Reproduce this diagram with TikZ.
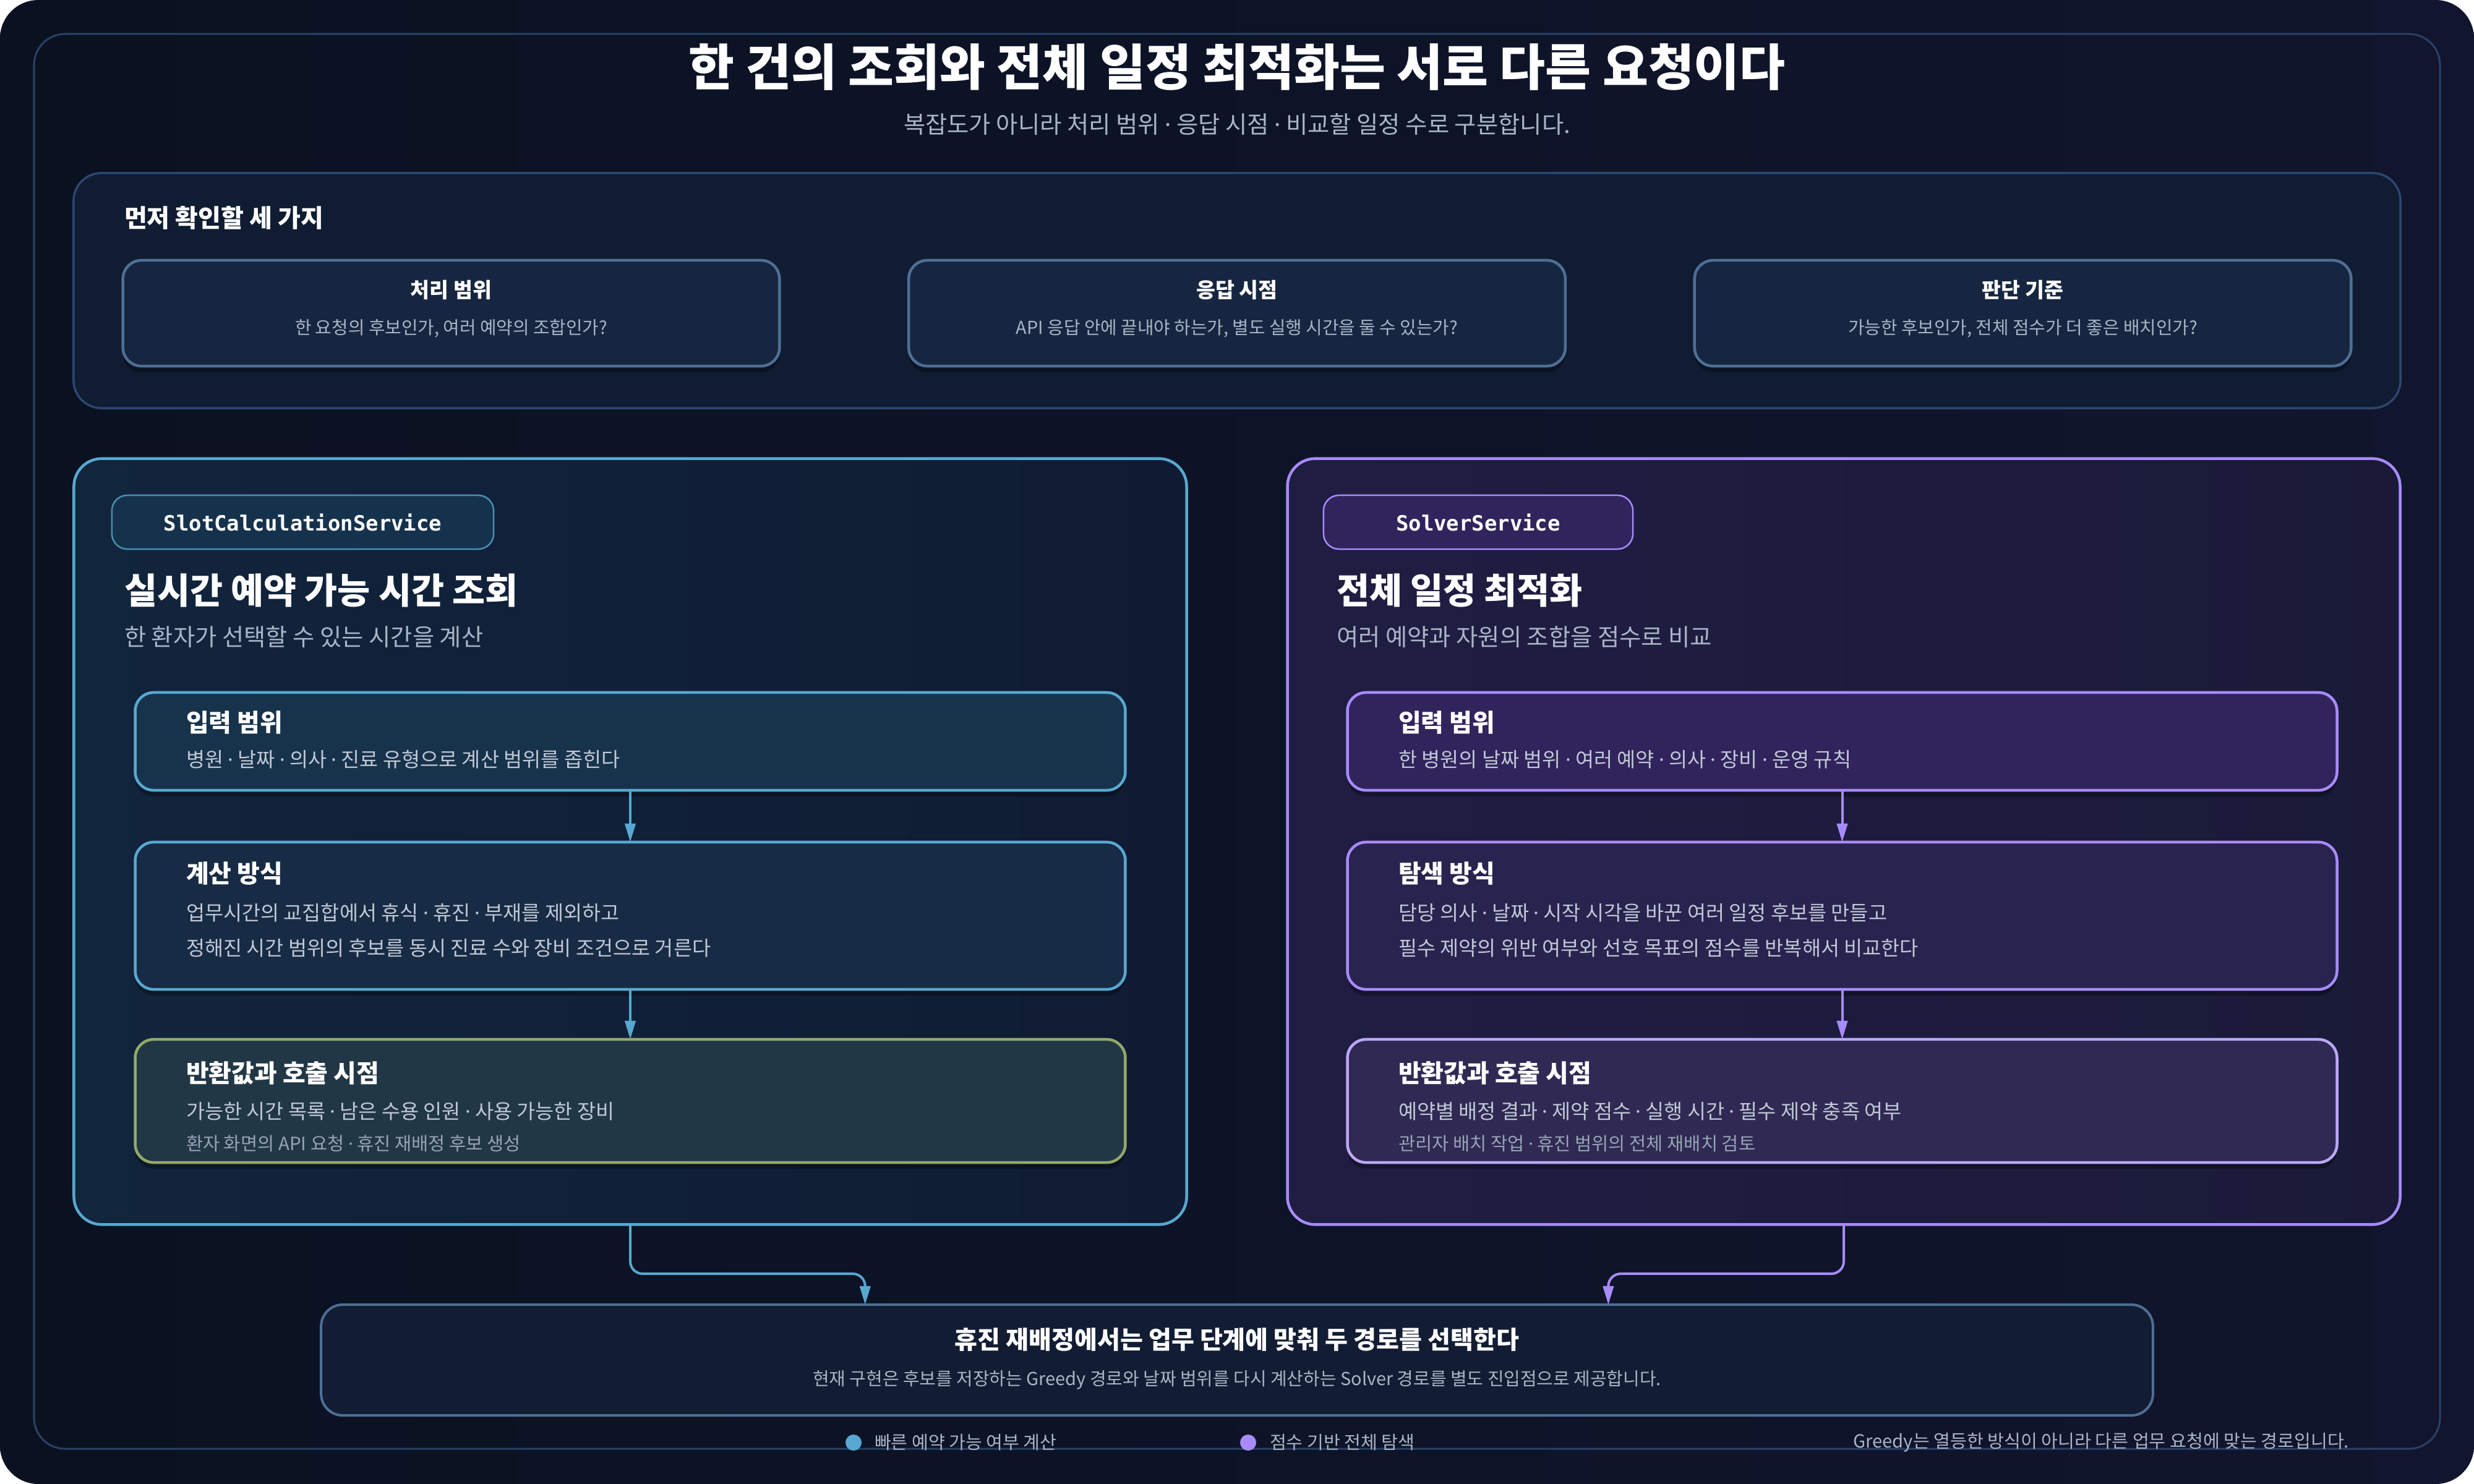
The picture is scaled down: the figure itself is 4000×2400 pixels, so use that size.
\documentclass[tikz,border=0pt]{standalone}
\usepackage{fontspec}
\setmainfont{Noto Sans CJK KR}
\newfontfamily\monofont{DejaVu Sans Mono}
\newfontfamily\dotfnt{Noto Sans}
\usetikzlibrary{arrows.meta,calc,shadows}
\definecolor{bgA}{HTML}{0A1221}
\definecolor{bgB}{HTML}{11152D}
\definecolor{frameline}{HTML}{2B4168}
\definecolor{topfill}{HTML}{0F1C32}
\definecolor{topline}{HTML}{2D4670}
\definecolor{cardfill}{HTML}{172640}
\definecolor{cardline}{HTML}{4E6F95}
\definecolor{cyanA}{HTML}{57A8D0}
\definecolor{lpA}{HTML}{11253D}
\definecolor{lpB}{HTML}{0F1B33}
\definecolor{lbadge}{HTML}{15324D}
\definecolor{lbox1}{HTML}{17334B}
\definecolor{lbox2}{HTML}{182B44}
\definecolor{lbox3}{HTML}{223746}
\definecolor{olive}{HTML}{93A96A}
\definecolor{purpA}{HTML}{A78BFA}
\definecolor{purpB}{HTML}{BBA8F8}
\definecolor{rpA}{HTML}{201D43}
\definecolor{rpB}{HTML}{1A1A38}
\definecolor{rbadge}{HTML}{30245C}
\definecolor{rbox1}{HTML}{31235C}
\definecolor{rbox2}{HTML}{29234F}
\definecolor{rbox3}{HTML}{2F2953}
\definecolor{botfill}{HTML}{121D34}
\definecolor{subtext}{HTML}{A9B4C6}
\definecolor{bodytext}{HTML}{C0C8D6}
\definecolor{dimtext}{HTML}{97A3B6}
\newcommand\myfs[1]{\fontsize{#1}{#1}\selectfont}
\newcommand\md{{\dotfnt ·}}
\tikzset{
  every node/.style={inner sep=0pt, outer sep=0pt},
  softshadow/.style={drop shadow={shadow xshift=0cm, shadow yshift=-0.1cm, opacity=0.3, fill=black}},
  card/.style={draw=cardline, fill=cardfill, rounded corners=0.3cm, line width=0.045cm,
    minimum width=10.61cm, minimum height=1.71cm, softshadow},
  panelbox/.style={rounded corners=0.45cm, line width=0.045cm, minimum width=17.98cm, minimum height=12.38cm},
  badge/.style={rounded corners=0.25cm, line width=0.025cm, minimum height=0.87cm,
    text=white, font=\monofont\bfseries\myfs{9.65}},
  stepL/.style={rounded corners=0.3cm, line width=0.045cm, minimum width=16cm, draw=cyanA, softshadow},
  stepR/.style={rounded corners=0.3cm, line width=0.045cm, minimum width=15.99cm, draw=purpA, softshadow},
  maintitle/.style={text=white, font=\bfseries\myfs{22.85}},
  mainsub/.style={text=subtext, font=\myfs{10.9}},
  seclabel/.style={text=white, font=\bfseries\myfs{11.4}, anchor=west},
  cardtitle/.style={text=white, font=\bfseries\myfs{9.55}},
  cardsub/.style={text=subtext, font=\myfs{8.2}},
  ptitle/.style={text=white, font=\bfseries\myfs{16.4}, anchor=west},
  psub/.style={text=subtext, font=\myfs{10.9}, anchor=west},
  btitle/.style={text=white, font=\bfseries\myfs{11.35}, anchor=west},
  bbody/.style={text=bodytext, font=\myfs{9.3}, anchor=west},
  bsmall/.style={text=dimtext, font=\myfs{8.4}, anchor=west},
  legend/.style={text=subtext, font=\myfs{8.3}},
  connL/.style={draw=cyanA, line width=0.04cm, -{Triangle[length=0.3cm, width=0.17cm]}},
  connR/.style={draw=purpA, line width=0.04cm, -{Triangle[length=0.3cm, width=0.17cm]}},
}
\begin{document}
\begin{tikzpicture}[x=0.01cm, y=-0.01cm]
\useasboundingbox (0,0) rectangle (4000,2400);
\shade[rounded corners=0.62cm, left color=bgA, right color=bgB] (0,0) rectangle (4000,2400);
\draw[frameline, line width=0.03cm, rounded corners=0.5cm] (55,55) rectangle (3945,2343);

% titles
\node[maintitle] (title) at (2000,108) {한 건의 조회와 전체 일정 최적화는 서로 다른 요청이다};
\node[mainsub] (subtitle) at (2000,201) {복잡도가 아니라 처리 범위 \md{} 응답 시점 \md{} 비교할 일정 수로 구분합니다.};

% top check panel
\node[draw=topline, fill=topfill, rounded corners=0.45cm, line width=0.035cm,
      minimum width=37.6cm, minimum height=3.8cm] (checks) at (2000,470) {};
\node[seclabel] (checkslabel) at (201,352) {먼저 확인할 세 가지};

\node[card] (c1) at (729.5,506.5) {};
\node[cardtitle] (c1t) at (729.5,469) {처리 범위};
\node[cardsub] (c1s) at (729.5,531) {한 요청의 후보인가, 여러 예약의 조합인가?};
\node[card] (c2) at (2000,506.5) {};
\node[cardtitle] (c2t) at (2000,469) {응답 시점};
\node[cardsub] (c2s) at (2000,531) {API 응답 안에 끝내야 하는가, 별도 실행 시간을 둘 수 있는가?};
\node[card] (c3) at (3270.5,506.5) {};
\node[cardtitle] (c3t) at (3270.5,469) {판단 기준};
\node[cardsub] (c3s) at (3270.5,531) {가능한 후보인가, 전체 점수가 더 좋은 배치인가?};

% left panel
\node[panelbox, draw=cyanA, left color=lpA, right color=lpB] (lp) at (1019,1361) {};
\node[badge, draw=cyanA!85!black, fill=lbadge, minimum width=6.17cm] (lbadge) at (489.5,844.5) {SlotCalculationService};
\node[ptitle] (lpt) at (201,955) {실시간 예약 가능 시간 조회};
\node[psub] (lps) at (201,1030) {한 환자가 선택할 수 있는 시간을 계산};

\node[stepL, fill=lbox1, minimum height=1.58cm] (l1) at (1019,1199) {};
\node[btitle] (l1t) at (301,1169) {입력 범위};
\node[bbody] (l1b) at (301,1228) {병원 \md{} 날짜 \md{} 의사 \md{} 진료 유형으로 계산 범위를 좁힌다};

\node[stepL, fill=lbox2, minimum height=2.38cm] (l2) at (1019,1481) {};
\node[btitle] (l2t) at (301,1413) {계산 방식};
\node[bbody] (l2b) at (301,1476) {업무시간의 교집합에서 휴식 \md{} 휴진 \md{} 부재를 제외하고};
\node[bbody] (l2c) at (301,1533) {정해진 시간 범위의 후보를 동시 진료 수와 장비 조건으로 거른다};

\node[stepL, draw=olive, fill=lbox3, minimum height=1.99cm] (l3) at (1019,1780.5) {};
\node[btitle] (l3t) at (301,1735) {반환값과 호출 시점};
\node[bbody] (l3b) at (301,1797) {가능한 시간 목록 \md{} 남은 수용 인원 \md{} 사용 가능한 장비};
\node[bsmall] (l3c) at (301,1849) {환자 화면의 API 요청 \md{} 휴진 재배정 후보 생성};

\draw[connL] (l1.south) -- (l2.north);
\draw[connL] (l2.south) -- (l3.north);

% right panel
\node[panelbox, draw=purpA, left color=rpA, right color=rpB] (rp) at (2981,1361) {};
\node[badge, draw=purpA, fill=rbadge, minimum width=5cm] (rbadge) at (2390,844.5) {SolverService};
\node[ptitle] (rpt) at (2161,955) {전체 일정 최적화};
\node[psub] (rps) at (2161,1030) {여러 예약과 자원의 조합을 점수로 비교};

\node[stepR, fill=rbox1, minimum height=1.58cm] (r1) at (2978.5,1199) {};
\node[btitle] (r1t) at (2261,1169) {입력 범위};
\node[bbody] (r1b) at (2261,1228) {한 병원의 날짜 범위 \md{} 여러 예약 \md{} 의사 \md{} 장비 \md{} 운영 규칙};

\node[stepR, fill=rbox2, minimum height=2.38cm] (r2) at (2978.5,1481) {};
\node[btitle] (r2t) at (2261,1413) {탐색 방식};
\node[bbody] (r2b) at (2261,1476) {담당 의사 \md{} 날짜 \md{} 시작 시각을 바꾼 여러 일정 후보를 만들고};
\node[bbody] (r2c) at (2261,1533) {필수 제약의 위반 여부와 선호 목표의 점수를 반복해서 비교한다};

\node[stepR, draw=purpB, fill=rbox3, minimum height=1.99cm] (r3) at (2978.5,1780.5) {};
\node[btitle] (r3t) at (2261,1735) {반환값과 호출 시점};
\node[bbody] (r3b) at (2261,1797) {예약별 배정 결과 \md{} 제약 점수 \md{} 실행 시간 \md{} 필수 제약 충족 여부};
\node[bsmall] (r3c) at (2261,1849) {관리자 배치 작업 \md{} 휴진 범위의 전체 재배치 검토};

\draw[connR] (r1.south) -- (r2.north);
\draw[connR] (r2.south) -- (r3.north);

% bottom box
\node[draw=cardline, fill=botfill, rounded corners=0.35cm, line width=0.04cm,
      minimum width=29.6cm, minimum height=1.79cm] (bb) at (2000,2199.5) {};
\node[text=white, font=\bfseries\myfs{11.4}] (bbt) at (2000,2166) {휴진 재배정에서는 업무 단계에 맞춰 두 경로를 선택한다};
\node[text=subtext, font=\myfs{8.23}] (bbs) at (2000,2232) {현재 구현은 후보를 저장하는 Greedy 경로와 날짜 범위를 다시 계산하는 Solver 경로를 별도 진입점으로 제공합니다.};

\draw[connL, rounded corners=0.2cm] (lp.south) |- ($($(bb.north west)!0.297!(bb.north east)$)+(0,-50)$) -- ($(bb.north west)!0.297!(bb.north east)$);
\draw[connR, rounded corners=0.2cm] (rp.south) |- ($($(bb.north west)!0.7027!(bb.north east)$)+(0,-50)$) -- ($(bb.north west)!0.7027!(bb.north east)$);

% legend
\node[circle, fill=cyanA, minimum size=0.26cm] (dotL) at (1380,2333) {};
\node[legend, anchor=west] (legL) at (1414,2333) {빠른 예약 가능 여부 계산};
\node[circle, fill=purpA, minimum size=0.26cm] (dotR) at (2018,2333) {};
\node[legend, anchor=west] (legR) at (2053,2333) {점수 기반 전체 탐색};
\node[legend, anchor=east] (note) at (3798,2333) {Greedy는 열등한 방식이 아니라 다른 업무 요청에 맞는 경로입니다.};
\end{tikzpicture}
\end{document}
